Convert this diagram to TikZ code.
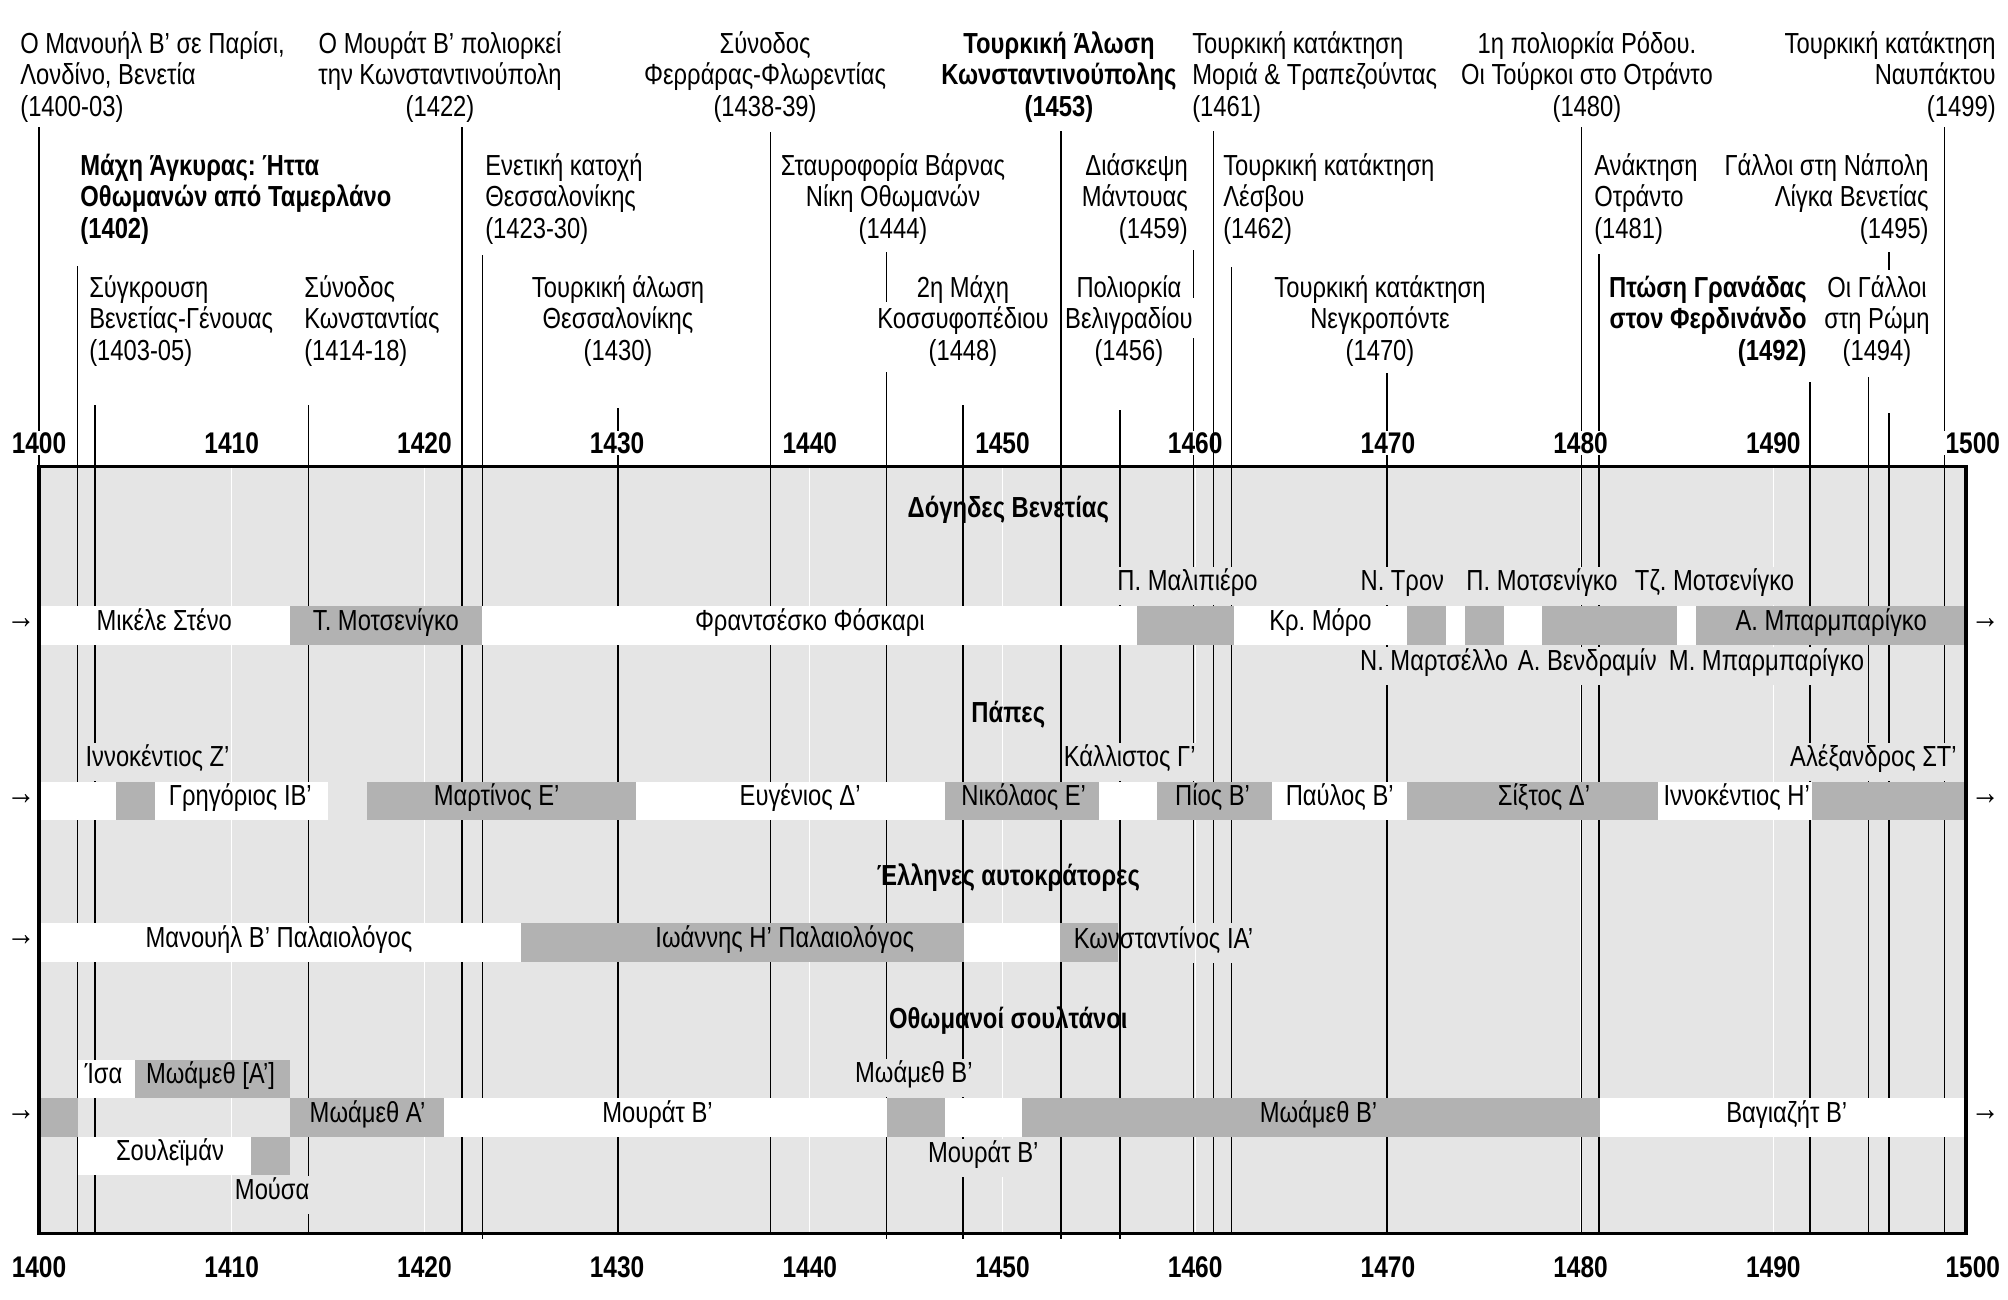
\documentclass[tikz,border=0pt]{standalone}
\usepackage{fontspec}
\setmainfont{Liberation Sans}[FakeStretch=0.82]
\frenchspacing

\definecolor{bgray}{RGB}{229,229,229}
\definecolor{barg}{RGB}{178,178,178}

\newcommand{\evtfont}{\fontsize{16.5}{18}\selectfont}
\newcommand{\yrfont}{\fontsize{17}{18}\selectfont\bfseries}

\begin{document}
\begin{tikzpicture}[x=0.3854cm,y=-0.02cm,
    evtline/.style={line width=0.75pt},
    gridline/.style={white,line width=0.6pt},
    evt/.style={font=\evtfont,inner sep=0pt},
    yr/.style={font=\yrfont,fill=white,inner sep=1pt},
    rowtitle/.style={font=\evtfont\bfseries,inner sep=0pt},
    inbar/.style={font=\evtfont,inner sep=0pt,text height=0.72em,text depth=0.22em},
    offbar/.style={font=\evtfont,fill=bgray,inner xsep=1pt,inner ysep=0pt,minimum height=0.76cm,text height=0.72em,text depth=0.22em},
    more/.style={font=\fontsize{20}{20}\selectfont,inner sep=0pt}]

  \useasboundingbox (-2.024,0) rectangle (102.18,1299);

  % panel and decade grid
  \fill[bgray] (0,466.5) rectangle (100,1233);
  \foreach \x in {10,20,...,90}
    \draw[gridline] (\x,466.5) -- (\x,1233);

  % event lines: year/top/bottom
  \foreach \x/\t/\b in {0/127/467, 2/266/1233, 2.9/405/1233, 14/405/1233,
      21.95/127/1233, 23/255/1239, 30.05/408/1233, 37.96/132/1233,
      43.98/252/302, 43.98/372/1239, 47.95/405/1239, 53.03/131/1239,
      56.1/410/1239, 59.9/250/298, 59.9/338/923, 59.9/963/1233,
      60.95/131/923, 60.95/963/1233, 61.9/267/923, 61.9/963/1233,
      69.95/373/1233, 80.05/127/1233, 80.95/254/1233, 91.9/382/1233,
      94.95/377/1233, 96/252/270, 96/413/1233, 98.9/127/1233}
    \draw[evtline] (\x,\t) -- (\x,\b);

  % doges
  \foreach \s/\e/\c in {0/13/white, 13/23/barg, 23/57/white, 57/62/barg, 62/71/white,
      71/73/barg, 73/74/white, 74/76/barg, 76/78/white, 78/85/barg, 85/86/white, 86/100/barg}
    \fill[\c] (\s,606) rectangle (\e,645);
  % popes
  \foreach \s/\e/\c in {0/4/white, 4/6/barg, 6/15/white, 17/31/barg, 31/47/white, 47/55/barg,
      55/58/white, 58/64/barg, 64/71/white, 71/84/barg, 84/92/white, 92/100/barg}
    \fill[\c] (\s,782) rectangle (\e,820);
  % emperors
  \foreach \s/\e/\c in {0/25/white, 25/48/barg, 48/53/white, 53/56/barg}
    \fill[\c] (\s,923) rectangle (\e,962);
  % sultans
  \foreach \s/\e/\c in {0/2/barg, 13/21/barg, 21/44/white, 44/47/barg, 47/51/white,
      51/81/barg, 81/100/white}
    \fill[\c] (\s,1098) rectangle (\e,1137);
  \fill[white] (2,1060) rectangle (5,1098);
  \fill[barg] (5,1060) rectangle (13,1098);
  \fill[white] (2,1137) rectangle (11,1175);
  \fill[barg] (11,1137) rectangle (13,1175);

  \draw[line width=1.8pt] (0,466.5) rectangle (100,1233);

  % year scale
  \foreach \y in {1400,1410,...,1490} {
    \node[yr] (t\y) at ({\y-1400},443) {\y};
    \node[yr] (b\y) at ({\y-1400},1267) {\y};
  }
  \node[yr] (t1500) at (100.35,443) {1500};
  \node[yr] (b1500) at (100.35,1267) {1500};
  \draw[evtline] (60.95,420) -- (60.95,467);

  % events, first tier
  \node[evt,anchor=west,align=left] (paris) at (-0.986,77) {Ο Μανουήλ Β’ σε Παρίσι,\\Λονδίνο, Βενετία\\(1400-03)};
  \node[evt,align=center] (siege) at (20.81,77) {Ο Μουράτ Β’ πολιορκεί\\την Κωνσταντινούπολη\\(1422)};
  \node[evt,align=center] (ferrara) at (37.68,77) {Σύνοδος\\Φερράρας-Φλωρεντίας\\(1438-39)};
  \node[evt,align=center,font=\evtfont\bfseries] (fall) at (52.93,77) {Τουρκική Άλωση\\Κωνσταντινούπολης\\(1453)};
  \node[evt,anchor=west,align=left] (morea) at (59.83,77) {Τουρκική κατάκτηση\\Μοριά \& Τραπεζούντας\\(1461)};
  \node[evt,align=center] (rhodes) at (80.33,77) {1η πολιορκία Ρόδου.\\Οι Τούρκοι στο Οτράντο\\(1480)};
  \node[evt,anchor=east,align=right] (lepanto) at (101.56,77) {Τουρκική κατάκτηση\\Ναυπάκτου\\(1499)};

  % events, second tier
  \node[evt,anchor=west,align=left,font=\evtfont\bfseries] (ankara) at (2.13,199) {Μάχη Άγκυρας: Ήττα\\Οθωμανών από Ταμερλάνο\\(1402)};
  \node[evt,anchor=west,align=left] (salonica) at (23.14,199) {Ενετική κατοχή\\Θεσσαλονίκης\\(1423-30)};
  \node[evt,align=center] (varna) at (44.32,199) {Σταυροφορία Βάρνας\\Νίκη Οθωμανών\\(1444)};
  \node[evt,anchor=east,align=right] (mantua) at (59.63,199) {Διάσκεψη\\Μάντουας\\(1459)};
  \node[evt,anchor=west,align=left] (lesbos) at (61.44,199) {Τουρκική κατάκτηση\\Λέσβου\\(1462)};
  \node[evt,anchor=west,align=left] (otranto) at (80.69,199) {Ανάκτηση\\Οτράντο\\(1481)};
  \node[evt,anchor=east,align=right] (naples) at (98.08,199) {Γάλλοι στη Νάπολη\\Λίγκα Βενετίας\\(1495)};

  % events, third tier
  \node[evt,anchor=west,align=left] (genoa) at (2.59,321) {Σύγκρουση\\Βενετίας-Γένουας\\(1403-05)};
  \node[evt,anchor=west,align=left] (constance) at (13.75,321) {Σύνοδος\\Κωνσταντίας\\(1414-18)};
  \node[evt,align=center] (thessfall) at (30.05,321) {Τουρκική άλωση\\Θεσσαλονίκης\\(1430)};
  \node[evt,align=center] (kosovo) at (47.95,321) {2η Μάχη\\Κοσσυφοπέδιου\\(1448)};
  \node[evt,align=center] (belgrade) at (56.56,321) {Πολιορκία\\Βελιγραδίου\\(1456)};
  \node[evt,align=center] (negro) at (69.59,321) {Τουρκική κατάκτηση\\Νεγκροπόντε\\(1470)};
  \node[evt,anchor=east,align=right,font=\evtfont\bfseries] (granada) at (91.75,321) {Πτώση Γρανάδας\\στον Φερδινάνδο\\(1492)};
  \node[evt,align=center] (rome) at (95.38,321) {Οι Γάλλοι\\στη Ρώμη\\(1494)};

  % row titles
  \node[rowtitle] (doges) at (50.3,510) {Δόγηδες Βενετίας};
  \node[rowtitle] (popes) at (50.3,715) {Πάπες};
  \node[rowtitle] (emperors) at (50.3,877) {Έλληνες αυτοκράτορες};
  \node[rowtitle] (sultans) at (50.3,1020) {Οθωμανοί σουλτάνοι};

  % doges
  \node[inbar] (steno) at (6.5,625.5) {Μικέλε Στένο};
  \node[inbar] (tmoc) at (18,625.5) {Τ. Μοτσενίγκο};
  \node[inbar] (foscari) at (40,625.5) {Φραντσέσκο Φόσκαρι};
  \node[inbar] (moro) at (66.5,625.5) {Κρ. Μόρο};
  \node[inbar] (abarb) at (93,625.5) {Α. Μπαρμπαρίγκο};
  \node[offbar] (malip) at (59.6,586) {Π. Μαλιπιέρο};
  \node[offbar] (tron) at (70.75,586) {Ν. Τρον};
  \node[offbar] (pmoc) at (78,586) {Π. Μοτσενίγκο};
  \node[offbar] (tzmoc) at (86.95,586) {Τζ. Μοτσενίγκο};
  \node[offbar] (marc) at (72.4,665.5) {Ν. Μαρτσέλλο};
  \node[offbar] (vendr) at (80.35,665.5) {Α. Βενδραμίν};
  \node[offbar] (mbarb) at (89.65,665.5) {Μ. Μπαρμπαρίγκο};

  % popes
  \node[inbar] (greg) at (10.45,801) {Γρηγόριος ΙΒ’};
  \node[inbar] (martin) at (23.75,801) {Μαρτίνος Ε’};
  \node[inbar] (eugen) at (39.5,801) {Ευγένιος Δ’};
  \node[inbar] (nichol) at (51.1,801) {Νικόλαος Ε’};
  \node[inbar] (pius) at (60.9,801) {Πίος Β’};
  \node[inbar] (paul) at (67.5,801) {Παύλος Β’};
  \node[inbar] (sixt) at (78.1,801) {Σίξτος Δ’};
  \node[inbar] (innoc) at (88.1,801) {Ιννοκέντιος Η’};
  \node[offbar] (innz) at (6.15,762) {Ιννοκέντιος Ζ’};
  \node[offbar] (callix) at (56.6,762) {Κάλλιστος Γ’};
  \node[offbar] (alex) at (95.2,762) {Αλέξανδρος ΣΤ’};

  % emperors
  \node[inbar] (manuel) at (12.45,942.5) {Μανουήλ Β’ Παλαιολόγος};
  \node[inbar] (john) at (38.7,942.5) {Ιωάννης Η’ Παλαιολόγος};
  \node[inbar] (const) at (58.35,944) {Κωνσταντίνος ΙΑ’};

  % sultans
  \node[inbar] (isa) at (3.35,1079) {Ίσα};
  \node[inbar] (mehmA) at (8.9,1079) {Μωάμεθ [Α’]};
  \node[inbar] (suleiman) at (6.8,1156) {Σουλεϊμάν};
  \node[inbar] (mehm1) at (17.05,1117.5) {Μωάμεθ Α’};
  \node[inbar] (murad) at (32.1,1117.5) {Μουράτ Β’};
  \node[inbar] (mehm2) at (66.4,1117.5) {Μωάμεθ Β’};
  \node[inbar] (bayez) at (90.7,1117.5) {Βαγιαζήτ Β’};
  \node[offbar] (mehm2a) at (45.4,1078) {Μωάμεθ Β’};
  \node[offbar] (murad2) at (49,1158) {Μουράτ Β’};
  \node[offbar] (musa) at (12.1,1195) {Μούσα};

  % continuation marks
  \foreach \n/\y in {dogl/623, popl/799, empl/940, sull/1115}
    \node[more] (\n) at (-0.93,\y) {→};
  \foreach \n/\y in {dogr/623, popr/799, sulr/1115}
    \node[more] (\n) at (101,\y) {→};
\end{tikzpicture}
\end{document}
